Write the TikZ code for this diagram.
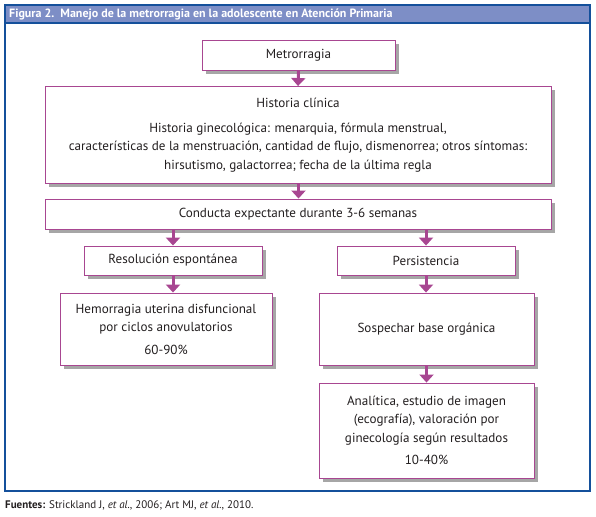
\documentclass[tikz,border=0pt]{standalone}
\usepackage{fontspec}
\setmainfont{PT Sans}
\usetikzlibrary{arrows.meta,shadows}
\definecolor{mag}{RGB}{168,70,145}
\definecolor{frameblue}{RGB}{20,80,155}
\definecolor{headfill}{RGB}{125,142,198}
\definecolor{txt}{RGB}{35,31,32}
\tikzset{
  box/.style={draw=mag, line width=0.9pt, fill=white, align=center, font=\fontsize{13.1}{18.5}\selectfont, text=txt, inner sep=0pt,
    drop shadow={shadow xshift=3.5pt, shadow yshift=-3.5pt, fill=black, opacity=0.35}},
  arr/.style={draw=mag, line width=3pt, -{Triangle[width=14pt,length=8pt]}}
}
\begin{document}
\begin{tikzpicture}[x=1pt,y=-1pt]
\useasboundingbox (0,0) rectangle (596,516);
% frame and header
\fill[headfill] (5,5) rectangle (590,23);
\draw[frameblue, line width=1.3pt] (5,5) rectangle (590,491);
\draw[frameblue, line width=1.3pt] (5,23) -- (590,23);
\node[anchor=west, text=white, font=\fontsize{12}{14}\selectfont\bfseries, inner sep=0pt] (title) at (9,14.5) {Figura 2.\ \ Manejo de la metrorragia en la adolescente en Atención Primaria};
\node[anchor=west, text=txt, font=\fontsize{11}{13}\selectfont, inner sep=0pt] (foot) at (5,505) {\textbf{Fuentes:} Strickland J, \textit{et al.}, 2006; Art MJ, \textit{et al.}, 2010.};
% boxes
\node[box, minimum width=193pt, minimum height=30pt] (m) at (298.5,55.5) {Metrorragia};
\node[box, minimum width=506pt, minimum height=97pt] (h) at (298,135) {Historia clínica\\[6pt]
Historia ginecológica: menarquia, fórmula menstrual,\\
características de la menstruación, cantidad de flujo, dismenorrea; otros síntomas:\\
hirsutismo, galactorrea; fecha de la última regla};
\node[box, minimum width=506pt, minimum height=30pt] (c) at (298,214) {Conducta expectante durante 3-6 semanas};
\node[box, minimum width=178pt, minimum height=29pt] (r) at (173,260.5) {Resolución espontánea};
\node[box, minimum width=178pt, minimum height=29pt] (p) at (426,260.5) {Persistencia};
\node[box, minimum width=212pt, minimum height=72pt] (hd) at (166,329) {Hemorragia uterina disfuncional\\
por ciclos anovulatorios\\[4pt]
60-90\%};
\node[box, minimum width=215pt, minimum height=72pt] (s) at (426.5,329) {Sospechar base orgánica};
\node[box, minimum width=215pt, minimum height=95pt] (a) at (426.5,430.5) {Analítica, estudio de imagen\\
(ecografía), valoración por\\
ginecología según resultados\\[4pt]
10-40\%};
% connectors
\draw[arr] (m.south) -- (h.north);
\draw[arr] (h.south -| m.south) -- (c.north -| m.south);
\draw[arr] (c.south -| r.north) -- (r.north);
\draw[arr] (c.south -| p.north) -- (p.north);
\draw[arr] (r.south) -- (r.south |- hd.north);
\draw[arr] (p.south) -- (p.south |- s.north);
\draw[arr] (s.south) -- (a.north);
\end{tikzpicture}
\end{document}
